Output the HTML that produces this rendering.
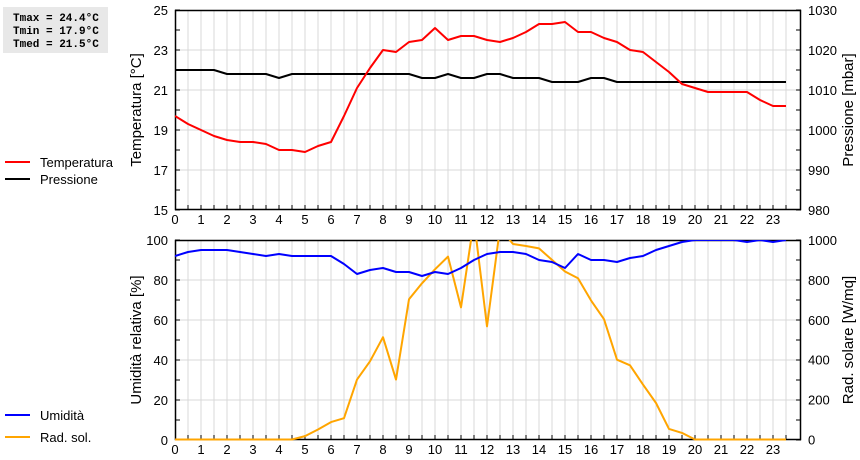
<!DOCTYPE html>
<html><head><meta charset="utf-8"><style>
html,body{margin:0;padding:0;background:#fff;}
svg{display:block;font-family:"Liberation Sans",sans-serif;}
</style></head><body>
<svg id="c" width="860" height="460" viewBox="0 0 860 460" xmlns="http://www.w3.org/2000/svg">
<rect x="3" y="7" width="105" height="46" fill="#e8e8e8"/>
<g font-family="Liberation Mono, monospace" font-weight="bold" font-size="11" fill="#000">
<text x="13" y="21">Tmax = 24.4°C</text>
<text x="13" y="34">Tmin = 17.9°C</text>
<text x="13" y="47">Tmed = 21.5°C</text>
</g>
<g>
<line x1="5" y1="162" x2="30" y2="162" stroke="#f00" stroke-width="2"/>
<text x="40" y="167" font-size="13">Temperatura</text>
<line x1="5" y1="179" x2="30" y2="179" stroke="#000" stroke-width="2"/>
<text x="40" y="184" font-size="13">Pressione</text>
</g>
<g>
<line x1="5" y1="415" x2="30" y2="415" stroke="#00f" stroke-width="2"/>
<text x="40" y="420" font-size="13">Umidità</text>
<line x1="5" y1="437" x2="30" y2="437" stroke="orange" stroke-width="2"/>
<text x="40" y="442" font-size="13">Rad. sol.</text>
</g>
<defs>
<clipPath id="clipTop"><rect x="175" y="10" width="626" height="200"/></clipPath>
<clipPath id="clipBot"><rect x="175" y="240" width="626" height="202"/></clipPath>
</defs>
</svg>
<script>
const hours = [0,0.5,1,1.5,2,2.5,3,3.5,4,4.5,5,5.5,6,6.5,7,7.5,8,8.5,9,9.5,10,10.5,11,11.5,12,12.5,13,13.5,14,14.5,15,15.5,16,16.5,17,17.5,18,18.5,19,19.5,20,20.5,21,21.5,22,22.5,23,23.5];
const temperature = [19.7,19.3,19.0,18.7,18.5,18.4,18.4,18.3,18.0,18.0,17.9,18.2,18.4,19.7,21.1,22.1,23.0,22.9,23.4,23.5,24.1,23.5,23.7,23.7,23.5,23.4,23.6,23.9,24.3,24.3,24.4,23.9,23.9,23.6,23.4,23.0,22.9,22.4,21.9,21.3,21.1,20.9,20.9,20.9,20.9,20.5,20.2,20.2];
const pressure = [1015,1015,1015,1015,1014,1014,1014,1014,1013,1014,1014,1014,1014,1014,1014,1014,1014,1014,1014,1013,1013,1014,1013,1013,1014,1014,1013,1013,1013,1012,1012,1012,1013,1013,1012,1012,1012,1012,1012,1012,1012,1012,1012,1012,1012,1012,1012,1012];
const humidity = [92,94,95,95,95,94,93,92,93,92,92,92,92,88,83,85,86,84,84,82,84,83,86,90,93,94,94,93,90,89,86,93,90,90,89,91,92,95,97,99,100,100,100,100,99,100,99,100];
const radiation = [0,0,0,0,0,0,0,0,0,0,17,50,87,107,300,392,513,300,703,783,853,917,662,1100,567,1060,980,970,958,900,842,808,697,603,400,372,275,183,53,33,0,0,0,0,0,0,0,0];
const hourTicks = [0,1,2,3,4,5,6,7,8,9,10,11,12,13,14,15,16,17,18,19,20,21,22,23];
const tempTicks = [15,17,19,21,23,25];
const pressTicks = [980,990,1000,1010,1020,1030];
const humTicks = [0,20,40,60,80,100];
const radTicks = [0,200,400,600,800,1000];

const svg = document.getElementById('c');
const NS = 'http://www.w3.org/2000/svg';
const L = 175, R = 801;
const xS = h => L + h * 26;
function mk(tag, attrs, parent){const e=document.createElementNS(NS,tag);for(const k in attrs)e.setAttribute(k,attrs[k]);(parent||svg).appendChild(e);return e;}
function lin(d0,d1,r0,r1){return v=>r0+(v-d0)*(r1-r0)/(d1-d0);}

function panel(top, yL, yR, lTicks, rTicks, lMin, lMax, lTitle, rTitle, prefix){
  const bot = top + 200;
  const g = mk('g', {});
  
  
  for (let h = 0.5; h < 24; h += 0.5) {
    const gl = mk('line', {x1:xS(h), x2:xS(h), y1:top, y2:bot, stroke:'#d8d8d8', 'stroke-width':1}, g);
    
    
    const tk = mk('line', {x1:xS(h), x2:xS(h), y1:bot-5, y2:bot, stroke:'#000', 'stroke-width':1}, g);
    
    
  }
  for (let v = lMin; v <= lMax; v += (lTicks[1]-lTicks[0])/2) {
    const y = yL(v);
    const isMajor = lTicks.indexOf(v) >= 0;
    if (isMajor && v !== lMin && v !== lMax) {
      const hg = mk('line', {x1:L, x2:R, y1:y, y2:y, stroke:'#d8d8d8', 'stroke-width':1}, g);
      
      
    }
    const t1 = mk('line', {x1:L, x2:L+5, y1:y, y2:y, stroke:'#000'}, g);
    
    
    const t2 = mk('line', {x1:R-5, x2:R, y1:y, y2:y, stroke:'#000'}, g);
    
    
  }
  const fr = mk('rect', {x:L+0.5, y:top+0.5, width:R-L-1, height:199, fill:'none', stroke:'#000', 'stroke-width':1.5}, g);
  
  
  lTicks.forEach(v => {
    const t = mk('text', {x:168, y:yL(v)+5, 'text-anchor':'end', 'font-size':13}, g);
    t.textContent = v;
    
    
  });
  rTicks.forEach(v => {
    const t = mk('text', {x:808, y:yR(v)+5, 'font-size':13}, g);
    t.textContent = v;
    
    
  });
  hourTicks.forEach(h => {
    const t = mk('text', {x:xS(h), y:bot+14, 'text-anchor':'middle', 'font-size':13}, g);
    t.textContent = h;
    
    
  });
  const lt = mk('text', {x:0, y:0, 'font-size':15, 'text-anchor':'middle', transform:`translate(141,${top+100}) rotate(-90)`}, g);
  lt.textContent = lTitle;
  
  
  const rt = mk('text', {x:0, y:0, 'font-size':15, 'text-anchor':'middle', transform:`translate(853,${top+100}) rotate(-90)`}, g);
  rt.textContent = rTitle;
  
  
}

function series(vals, yf, color, clip, name){
  const d = vals.map((v,i)=>(i?'L':'M')+xS(hours[i]).toFixed(1)+','+yf(v).toFixed(1)).join(' ');
  const p = mk('path', {d:d, fill:'none', stroke:color, 'stroke-width':2, 'clip-path':'url(#'+clip+')', 'stroke-linejoin':'round'});
  
  
}

const yT = lin(15,25,210,10), yP = lin(980,1030,210,10);
const yH = lin(0,100,440,240), yRd = lin(0,1000,439.5,240);
panel(10, yT, yP, tempTicks, pressTicks, 15, 25, 'Temperatura [°C]', 'Pressione [mbar]', 'top');
panel(240, yH, yRd, humTicks, radTicks, 0, 100, 'Umidità relativa [%]', 'Rad. solare [W/mq]', 'bottom');
series(pressure, yP, '#000', 'clipTop', 'pressure-line');
series(temperature, yT, '#f00', 'clipTop', 'temperature-line');
series(radiation, yRd, 'orange', 'clipBot', 'radiation-line');
series(humidity, yH, '#00f', 'clipBot', 'humidity-line');
</script>
</body></html>
